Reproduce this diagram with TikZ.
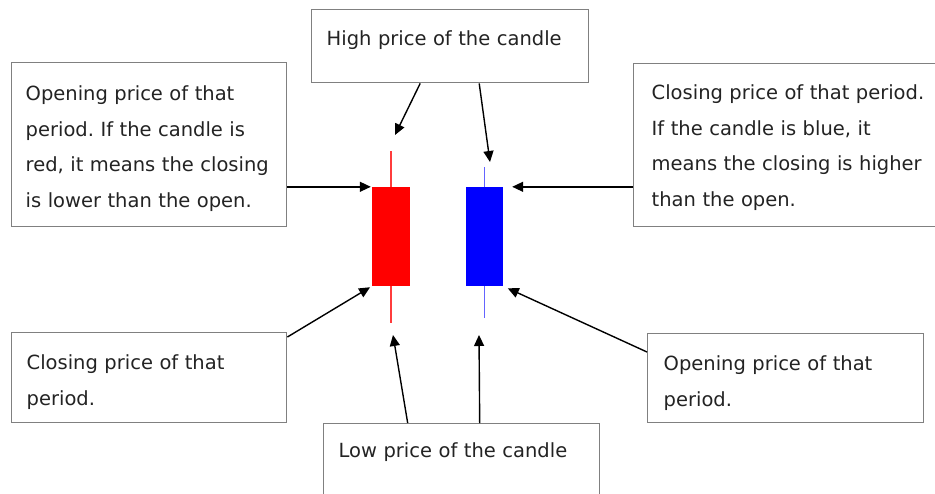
\documentclass[tikz,border=0pt]{standalone}
\usepackage{fontspec}
\setmainfont{DejaVu Sans}
\usepackage{tikz}
\usetikzlibrary{arrows.meta,positioning,calc}
\definecolor{boxgrey}{RGB}{128,128,128}
\definecolor{txtgrey}{RGB}{35,35,35}
\definecolor{wickblue}{RGB}{100,100,255}
\definecolor{wickred}{RGB}{255,60,60}
\frenchspacing

\begin{document}
\begin{tikzpicture}[x=1pt, y=-1pt, font=\fontsize{19.5}{35.6}\selectfont, text=txtgrey,
    box/.style={rectangle, draw=boxgrey, line width=1.4pt, fill=white, anchor=north west,
                align=left, inner ysep=0pt},
    body/.style={rectangle, draw=none, inner sep=0pt, minimum width=38pt, minimum height=99pt},
    wick/.style={line width=1.5pt},
    arr/.style={-{Triangle[length=11pt,width=10pt]}, line width=1.4pt, draw=black}]
\clip (0,0) rectangle (935,493);

% candles
\coordinate (redhigh) at (391,151);
\coordinate (redlow) at (391,323);
\coordinate (bluehigh) at (484.5,167);
\coordinate (bluelow) at (484.5,318);
\draw[wick, wickred] (redhigh) -- (redlow);
\draw[wick, wickblue] (bluehigh) -- (bluelow);
\node[body, fill=red] (redbody) at (391,236.5) {};
\node[body, fill=blue, minimum width=37pt] (bluebody) at (484.5,236.5) {};

% boxes
\node[box, inner xsep=15pt, text width=247pt, text height=36pt, text depth=37pt] (high) at (311,9)
    {High price of the candle};
\node[box, inner xsep=14pt, text width=247pt, text height=38pt, text depth=126pt] (redopen) at (11,62)
    {Opening price of that\\ period. If the candle is\\ red, it means the closing\\ is lower than the open.};
\node[box, inner xsep=18pt, text width=290pt, text height=36pt, text depth=127pt] (blueclose) at (633,63)
    {Closing price of that period.\\ If the candle is blue, it\\ means the closing is higher\\ than the open.};
\node[box, inner xsep=15pt, text width=245pt, text height=37pt, text depth=53pt] (redclose) at (11,332)
    {Closing price of that\\ period.};
\node[box, inner xsep=16pt, text width=244pt, text height=37pt, text depth=52pt] (blueopen) at (647,333)
    {Opening price of that\\ period.};
\node[box, inner xsep=15pt, text width=246pt, text height=34pt, text depth=50pt] (low) at (323,423)
    {Low price of the candle};

% arrow ends
\coordinate (redhightip) at (395,135);
\coordinate (bluehightip) at (490,162);
\coordinate (redlowtip) at (393,335);
\coordinate (bluelowtip) at (479,335);

% arrows
\draw[arr] ([xshift=-30pt]high.south) -- (redhightip);
\draw[arr] ([xshift=29pt]high.south) -- (bluehightip);
\draw[arr] ([xshift=-54pt]low.north) -- (redlowtip);
\draw[arr] ([xshift=18pt]low.north) -- (bluelowtip);
\draw[arr, shorten >=1pt] (redopen.east |- redbody.north west) -- (redbody.north west);
\draw[arr, shorten >=9pt] (blueclose.west |- bluebody.north east) -- (bluebody.north east);
\draw[arr, shorten >=2pt] ([yshift=-5pt]redclose.north east) -- (redbody.south west);
\draw[arr, shorten >=5pt] ([yshift=-19pt]blueopen.north west) -- (bluebody.south east);
\end{tikzpicture}
\end{document}
